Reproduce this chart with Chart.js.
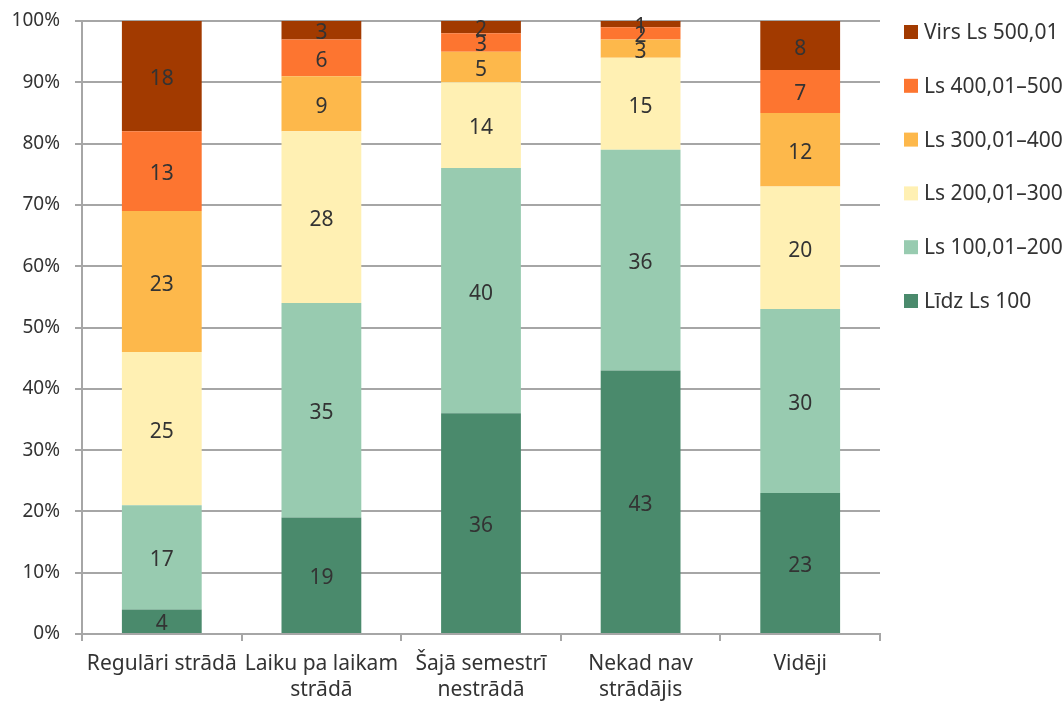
<!DOCTYPE html>
<html>
<head>
<meta charset="utf-8">
<script src="https://cdn.jsdelivr.net/npm/chart.js@4/dist/chart.umd.min.js"></script>
<style>
    html, body { margin: 0; padding: 0; background: #fff; }
    #wrap { width: 1064px; height: 702px; position: relative; }
</style>
</head>
<body>
<div id="wrap"><canvas id="ienakumiChart"></canvas></div>
<script>
// Chart data
const kategorijas = [
    "Regulāri strādā",
    ["Laiku pa laikam", "strādā"],
    ["Šajā semestrī", "nestrādā"],
    ["Nekad nav", "strādājis"],
    "Vidēji",
];
const lidz100 = [4, 19, 36, 43, 23];
const no100lidz200 = [17, 35, 40, 36, 30];
const no200lidz300 = [25, 28, 14, 15, 20];
const no300lidz400 = [23, 9, 5, 3, 12];
const no400lidz500 = [13, 6, 3, 2, 7];
const virs500 = [18, 3, 2, 1, 8];
const yTicks = [0, 10, 20, 30, 40, 50, 60, 70, 80, 90, 100];

const teksts = "#333333";
const rezgis = "#a6a6a6";
const fonts = "'Noto Sans', sans-serif";

// Value labels in the middle of each segment
const vertibuPlugin = {
    id: "vertibas",
    afterDatasetsDraw(chart) {
        const ctx = chart.ctx;
        ctx.save();
        ctx.font = "21px " + fonts;
        ctx.fillStyle = teksts;
        ctx.textAlign = "center";
        ctx.textBaseline = "middle";
        chart.data.datasets.forEach((ds, i) => {
            chart.getDatasetMeta(i).data.forEach((bar, j) => {
                const mid = (bar.y + bar.base) / 2;
                ctx.fillText(ds.data[j], bar.x, mid + 3);
            });
        });
        ctx.restore();
    },
};

// Legend on the right, top series first
const legendaPlugin = {
    id: "legenda",
    afterDraw(chart) {
        const ctx = chart.ctx;
        const x = chart.chartArea.right + 24;
        ctx.save();
        ctx.font = "21px " + fonts;
        ctx.textBaseline = "middle";
        ctx.textAlign = "left";
        const sets = chart.data.datasets.slice().reverse();
        sets.forEach((ds, k) => {
            const y = 32 + k * 53.8;
            ctx.fillStyle = ds.backgroundColor;
            ctx.fillRect(x, y - 7, 14, 14);
            ctx.fillStyle = teksts;
            ctx.fillText(ds.label, x + 20, y + 1);
        });
        ctx.restore();
    },
};

function initChart() {
    const ctx = document.getElementById("ienakumiChart");

    new Chart(ctx, {
        type: "bar",
        data: {
            labels: kategorijas,
            datasets: [
                { label: "Līdz Ls 100", data: lidz100, backgroundColor: "#4a8a6c" },
                { label: "Ls 100,01–200", data: no100lidz200, backgroundColor: "#98cbb0" },
                { label: "Ls 200,01–300", data: no200lidz300, backgroundColor: "#fff0b3" },
                { label: "Ls 300,01–400", data: no300lidz400, backgroundColor: "#fdb84b" },
                { label: "Ls 400,01–500", data: no400lidz500, backgroundColor: "#fd7530" },
                { label: "Virs Ls 500,01", data: virs500, backgroundColor: "#a23a00" },
            ],
        },
        options: {
            responsive: true,
            maintainAspectRatio: false,
            animation: false,
            layout: { padding: { top: 21, left: 0, right: 184, bottom: 0 } },
            datasets: {
                bar: { categoryPercentage: 1, barPercentage: 0.5 },
            },
            scales: {
                x: {
                    stacked: true,
                    offset: true,
                    grid: {
                        offset: true,
                        drawOnChartArea: false,
                        color: rezgis,
                        lineWidth: 2,
                        tickLength: 7,
                    },
                    border: { color: rezgis, width: 2 },
                    ticks: {
                        color: teksts,
                        font: { family: fonts, size: 21, lineHeight: 1.25 },
                        maxRotation: 0,
                        autoSkip: false,
                        padding: 10,
                    },
                    afterFit: (scale) => {
                        scale.height = 68;
                        scale.paddingLeft = 0;
                        scale.paddingRight = 0;
                    },
                },
                y: {
                    stacked: true,
                    min: 0,
                    max: 100,
                    afterBuildTicks: (scale) => {
                        scale.ticks = yTicks.map((v) => ({ value: v }));
                    },
                    grid: { color: rezgis, lineWidth: 2, tickLength: 7 },
                    border: { color: rezgis, width: 2 },
                    ticks: {
                        color: teksts,
                        font: { family: fonts, size: 19 },
                        padding: 15,
                        callback: (v) => v + "%",
                    },
                    afterFit: (scale) => {
                        scale.width = 82;
                        scale.paddingTop = 0;
                        scale.paddingBottom = 0;
                    },
                },
            },
            plugins: {
                legend: { display: false },
                tooltip: { enabled: false },
            },
        },
        plugins: [vertibuPlugin, legendaPlugin],
    });
}

document.addEventListener("DOMContentLoaded", initChart);
</script>
</body>
</html>
